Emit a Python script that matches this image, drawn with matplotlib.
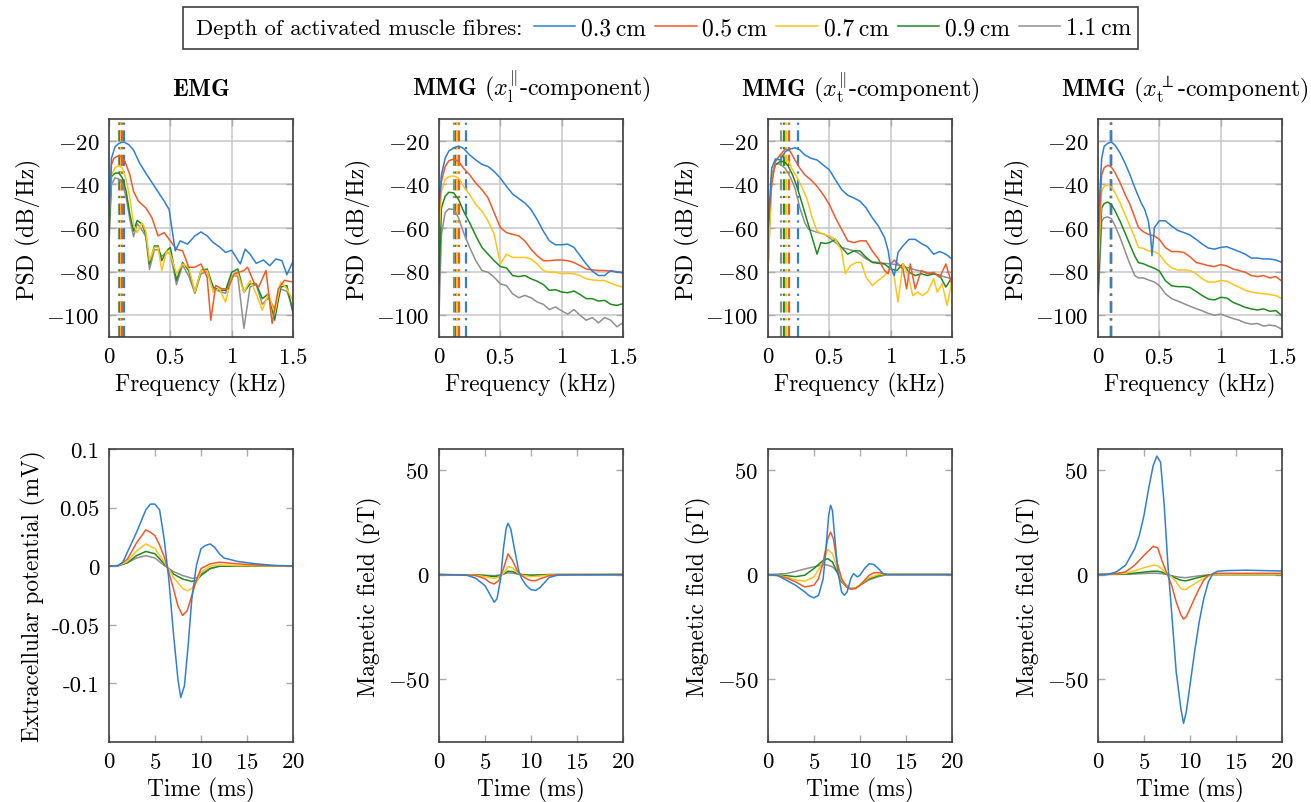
import numpy as np
import matplotlib
matplotlib.use('Agg')
import matplotlib.pyplot as plt
from matplotlib.patches import Rectangle
from matplotlib.lines import Line2D
from matplotlib.ticker import FuncFormatter

plt.rcParams['font.family'] = ['cmr10', 'DejaVu Serif']
plt.rcParams['mathtext.fontset'] = 'cm'
plt.rcParams['axes.formatter.use_mathtext'] = True
plt.rcParams['font.size'] = 16.8

depths = ['0.3\u2009cm', '0.5\u2009cm', '0.7\u2009cm', '0.9\u2009cm', '1.1\u2009cm']
colors = ['#2f7fd2', '#ee5a2a', '#ffc41c', '#1f8a1f', '#8f8f8f']

# ---------------- PSD data (kHz, dB/Hz) ----------------
# EMG
emg_f_03 = [0, 0.02, 0.05, 0.08, 0.12, 0.16, 0.2, 0.25, 0.3, 0.38, 0.45, 0.49, 0.52, 0.54, 0.58, 0.64, 0.7,
            0.75, 0.8, 0.85, 0.9, 0.95, 1.0, 1.07, 1.11, 1.15, 1.2, 1.26, 1.31, 1.36, 1.41, 1.45, 1.5]
emg_psd_03 = [-58, -28, -22.7, -21.2, -20.5, -21.7, -24.2, -30.3, -34.8, -41.7, -47.7, -51.5, -62.9, -70.5,
              -65.9, -67.4, -63.6, -61.8, -63.6, -66.7, -68.6, -71.2, -70.2, -76.5, -69.7, -72, -76.2, -74.7,
              -77.3, -74.2, -75, -81.4, -75.3]
emg_f_05 = [0, 0.02, 0.04, 0.07, 0.1, 0.13, 0.17, 0.2, 0.24, 0.3, 0.35, 0.4, 0.45, 0.5, 0.55, 0.6, 0.65, 0.7,
            0.75, 0.8, 0.83, 0.87, 0.92, 0.97, 1.02, 1.1, 1.13, 1.18, 1.22, 1.28, 1.33, 1.38, 1.43, 1.5]
emg_psd_05 = [-55, -31, -28, -27, -27.3, -29.5, -35.6, -43.2, -47.7, -50.8, -55.3, -63.6, -62.1, -65.9, -69.7,
              -70.5, -78, -78, -76.5, -82.6, -102.3, -86.4, -87.9, -87.9, -81, -79.5, -78, -84.8, -87.1, -79.5,
              -103.8, -87.9, -84, -84.8]
emg_f = [0, 0.02, 0.05, 0.08, 0.11, 0.14, 0.17, 0.2, 0.23, 0.27, 0.3, 0.33, 0.37, 0.4, 0.43, 0.47, 0.5, 0.55,
         0.6, 0.65, 0.7, 0.75, 0.8, 0.85, 0.9, 0.95, 1.0, 1.05, 1.1, 1.15, 1.2, 1.25, 1.3, 1.35, 1.4, 1.45, 1.5]
emg_psd_07 = [-55, -35.6, -32.3, -31.4, -32.6, -37.9, -46.2, -58.3, -62.1, -57.6, -61.4, -75, -68.9, -68.9,
              -79.5, -70.5, -72, -81, -76.5, -78, -89.4, -79.5, -79.5, -89.4, -87.9, -94, -82.6, -81, -89.4,
              -84, -90.2, -97.7, -90.2, -99.2, -84.8, -87.9, -93.2]
emg_psd_09 = [-62, -36.4, -34.8, -34.8, -37.1, -43.2, -53.8, -61.4, -56.5, -58.3, -62.9, -76.5, -68.2, -68.2,
              -75, -70.5, -68.9, -84, -75.8, -79.5, -89.4, -79.5, -78.8, -87.1, -88.6, -88.6, -80.3, -78.8,
              -89.4, -85.6, -85.6, -92.4, -90.2, -102.3, -87.1, -86.4, -99.2]
emg_psd_11 = [-68, -40, -37, -37.5, -40, -46, -56, -64, -58, -61, -64, -79, -70, -70, -73, -71, -72, -86, -77,
              -82, -90, -81, -80, -88, -89, -90, -82, -82, -106, -87, -86, -95, -92, -97, -88, -89, -97]
emg_peaks = [0.125, 0.105, 0.095, 0.09, 0.085]

# MMG x_l parallel
xl_f = [0, 0.02, 0.05, 0.08, 0.12, 0.16, 0.2, 0.25, 0.3, 0.35, 0.4, 0.45, 0.5, 0.55, 0.6, 0.65, 0.7, 0.75, 0.8,
        0.85, 0.9, 0.95, 1.0, 1.05, 1.1, 1.15, 1.2, 1.25, 1.3, 1.35, 1.4, 1.45, 1.5]
xl_psd_03 = [-48, -35.6, -28, -24.7, -23.2, -22.4, -23.5, -26.5, -28.8, -30.8, -31.8, -34.1, -37.1, -40.9, -44.4,
             -46.5, -48.5, -51.5, -56.1, -61.4, -65.9, -67.7, -67.7, -67.4, -68.9, -72.7, -76.5, -79.8, -81.8,
             -81.8, -79.5, -80.3, -80.3]
xl_psd_05 = [-52, -38.6, -31.8, -29.2, -28.3, -29.5, -32.6, -35.6, -39.4, -42.4, -46.2, -53, -59.8, -62.1, -62.9,
             -63.6, -65.9, -69.7, -72.7, -75, -75, -74.7, -74.7, -75, -75.8, -77.3, -78.8, -79.2, -79.5, -79.5,
             -79.8, -80, -80.8]
xl_psd_07 = [-62, -43.2, -37.9, -36.4, -36.1, -37.1, -40.9, -44.7, -49.2, -52.3, -56.8, -62.9, -76.5, -72, -73.5,
             -73.5, -73.5, -74.2, -76.5, -79.5, -80.3, -80.3, -81, -80.8, -81, -81.8, -83.3, -83.8, -84.1, -84.1,
             -85.3, -86.4, -87.1]
xl_psd_09 = [-85, -50.8, -45.5, -43.6, -43.9, -47, -52.3, -57.6, -63.6, -68.9, -72, -75, -77.7, -78.3, -81.8,
             -82.3, -81.8, -83.3, -84.4, -85.9, -88.6, -88.3, -89.4, -89.7, -88.9, -90.5, -92.4, -92.4, -93.5,
             -93.2, -95, -95.5, -94.7]
xl_psd_11 = [-100, -62.9, -53, -51.2, -51.5, -55.3, -62.1, -68.9, -75, -79.5, -80.3, -82.6, -85.6, -86.4, -90.2,
             -92, -90.9, -92, -93.9, -95, -97.4, -96.2, -98, -99.5, -97.4, -100, -102.3, -101.1, -103.5, -101.1,
             -102.3, -105.3, -103.5]
xl_peaks = [0.22, 0.16, 0.15, 0.135, 0.125]

# MMG x_t parallel
xt_f_03 = [0, 0.03, 0.06, 0.1, 0.14, 0.18, 0.22, 0.26, 0.3, 0.35, 0.4, 0.45, 0.5, 0.55, 0.6, 0.65, 0.7, 0.75, 0.8,
           0.85, 0.9, 0.95, 0.98, 1.0, 1.03, 1.06, 1.1, 1.15, 1.2, 1.25, 1.3, 1.35, 1.4, 1.45, 1.5]
xt_psd_03 = [-60, -32.6, -28.3, -28.8, -25, -23.8, -23.2, -24.2, -26.5, -28, -28.8, -31.1, -33.3, -37.9, -42.4,
             -45, -46.2, -47.7, -50.8, -55.3, -59.1, -64.4, -70.5, -78, -81.8, -71.2, -68.2, -65.2, -65.2, -67.1,
             -68.6, -72, -70.8, -72, -74.2]
xt_f_05 = [0, 0.03, 0.06, 0.1, 0.14, 0.18, 0.22, 0.26, 0.3, 0.35, 0.4, 0.45, 0.5, 0.55, 0.6, 0.65, 0.7, 0.75, 0.8,
           0.85, 0.9, 0.95, 0.98, 1.0, 1.03, 1.06, 1.1, 1.13, 1.16, 1.2, 1.25, 1.3, 1.35, 1.4, 1.45, 1.5]
xt_psd_05 = [-60, -40.2, -29.5, -26.5, -23.8, -24.7, -28.8, -32.6, -35.6, -37.9, -40.9, -44.7, -49.2, -55.3,
             -60.6, -65.9, -66.7, -65.9, -65.9, -70.5, -74.2, -79.5, -81, -76.5, -74.7, -76.5, -78.8, -87.9,
             -76.5, -87.9, -79.5, -81, -80.3, -82.6, -76.5, -86]
xt_f_07 = [0, 0.03, 0.06, 0.1, 0.13, 0.16, 0.2, 0.24, 0.28, 0.32, 0.36, 0.4, 0.45, 0.5, 0.55, 0.6, 0.63, 0.67,
           0.72, 0.76, 0.8, 0.85, 0.9, 0.95, 1.0, 1.03, 1.06, 1.1, 1.14, 1.18, 1.22, 1.26, 1.3, 1.35, 1.38, 1.42,
           1.46, 1.5]
xt_psd_07 = [-80, -38.6, -29.5, -26.2, -26.5, -28.8, -33.3, -37.1, -41.7, -47, -55.3, -61.4, -62.9, -63.6, -65.2,
             -70.5, -81, -77.3, -75.8, -75.8, -82.6, -86.4, -84, -81.8, -78, -82.6, -94, -76.5, -81, -91, -89.4,
             -91, -89.4, -83.3, -89.4, -85.6, -95.5, -84]
xt_f_09 = [0, 0.03, 0.06, 0.1, 0.13, 0.16, 0.2, 0.24, 0.28, 0.32, 0.36, 0.4, 0.43, 0.47, 0.5, 0.55, 0.6, 0.65,
           0.7, 0.75, 0.8, 0.85, 0.9, 0.95, 1.0, 1.05, 1.1, 1.15, 1.2, 1.25, 1.3, 1.35, 1.4, 1.45, 1.5]
xt_psd_09 = [-70, -37.1, -31.1, -29.5, -29.5, -31.1, -35.6, -41.7, -49.2, -56.8, -64.4, -72, -66.7, -67.1, -66.7,
             -65.2, -68.9, -72, -70.5, -70.5, -73.5, -75.8, -76.2, -76.5, -78.8, -79.5, -76.5, -80.3, -81.8, -81,
             -81.8, -81, -81.8, -87.1, -82.6]
xt_f_11 = [0, 0.03, 0.06, 0.1, 0.14, 0.18, 0.22, 0.26, 0.3, 0.33, 0.37, 0.41, 0.46, 0.5, 0.55, 0.6, 0.65, 0.7,
           0.75, 0.8, 0.85, 0.9, 0.95, 1.0, 1.05, 1.1, 1.15, 1.2, 1.25, 1.3, 1.35, 1.4, 1.45, 1.5]
xt_psd_11 = [-80, -35.6, -30.3, -30.8, -32.6, -36.4, -41.7, -50.8, -57.6, -60.6, -61.4, -62.1, -62.9, -64.4,
             -66.7, -68.9, -69.7, -70.5, -72, -74.2, -75.5, -75.8, -76.2, -76.5, -76.8, -77.7, -78.3, -79.2,
             -79.8, -80.5, -81, -81.8, -82.6, -83.3]
xt_peaks = [0.245, 0.17, 0.15, 0.13, 0.11]

# MMG x_t perpendicular
pp_f_03 = [0, 0.03, 0.05, 0.08, 0.11, 0.14, 0.18, 0.22, 0.26, 0.3, 0.35, 0.38, 0.41, 0.43, 0.44, 0.46, 0.5, 0.55,
           0.6, 0.65, 0.7, 0.75, 0.8, 0.85, 0.9, 0.95, 1.0, 1.05, 1.1, 1.15, 1.2, 1.25, 1.3, 1.35, 1.4, 1.45, 1.5]
pp_psd_03 = [-60, -28, -22.6, -21.1, -20.6, -22.1, -25.6, -30.2, -35.5, -41.5, -48.3, -51.4, -56.7, -64.3, -72.7,
             -59.8, -56.7, -56.7, -59.1, -61.1, -62.1, -63.2, -65.2, -67.4, -69.2, -69.7, -68.9, -68.6, -69.7,
             -70.8, -72, -73.8, -73.8, -74.2, -74.2, -74.7, -75.8]
pp_f = [0, 0.03, 0.05, 0.08, 0.11, 0.14, 0.18, 0.22, 0.26, 0.3, 0.33, 0.37, 0.41, 0.46, 0.5, 0.55, 0.6, 0.65, 0.7,
        0.75, 0.8, 0.85, 0.9, 0.95, 1.0, 1.05, 1.1, 1.15, 1.2, 1.25, 1.3, 1.35, 1.4, 1.45, 1.5]
pp_psd_05 = [-70, -35.5, -32.4, -31.2, -32.1, -34.7, -39.2, -44.5, -49.1, -55.2, -59.8, -61.7, -62.9, -63.6,
             -65.2, -69, -70.8, -70.8, -71.2, -73.2, -75.8, -76.5, -77.3, -77.7, -76.8, -77.4, -78.8, -79.5,
             -80.3, -81.8, -82.3, -81.8, -82.9, -82.3, -84.4]
pp_psd_07 = [-80, -43.1, -40.9, -40.2, -41.3, -43.9, -48.5, -53.8, -59.1, -64.4, -69, -69.3, -70.5, -70.8, -72,
             -75.8, -78.3, -79.2, -79.2, -79.5, -81, -83.3, -84.8, -84.8, -84.1, -84.4, -85.9, -87.1, -88.6,
             -89.4, -89.8, -90.2, -90.5, -91, -92.4]
pp_psd_09 = [-90, -50.8, -48.8, -48.1, -49.3, -52.3, -56.9, -62.2, -67.6, -72.9, -75.9, -76.4, -77.4, -78.5,
             -79.7, -84.2, -86.5, -86.9, -86.9, -87.3, -89.1, -91, -92.6, -93, -91.8, -92.1, -94.1, -95.2, -96.4,
             -97.1, -97.6, -97.1, -98.2, -97.9, -100.2]
pp_psd_11 = [-95, -56.9, -55.3, -54.9, -55.8, -59.1, -64.4, -70.5, -76.5, -81.8, -82.9, -82.9, -83.8, -84.8,
             -86.4, -90.2, -92.4, -93.5, -94.7, -95.9, -97, -98, -99.2, -100, -99.5, -100.5, -101.5, -102.3,
             -103.5, -104.1, -103.8, -105, -104.5, -105, -106.5]
pp_peaks = [0.11, 0.11, 0.11, 0.11, 0.11]

# ---------------- time signals (ms) ----------------
emg_t_03 = [0, 1, 1.5, 2, 3, 4, 4.5, 5, 5.5, 6, 6.5, 7, 7.5, 7.8, 8.2, 8.6, 9, 9.5, 10, 10.5, 11, 11.5, 12, 12.5,
            14, 16, 18, 20]
emg_v_03 = [0, 0.0006, 0.0034, 0.012, 0.029, 0.048, 0.053, 0.053, 0.048, 0.023, -0.011, -0.057, -0.097, -0.112,
            -0.102, -0.068, -0.028, 0.0006, 0.015, 0.0177, 0.019, 0.016, 0.0106, 0.007, 0.004, 0.002, 0.0006,
            0.0003]
emg_t_05 = [0, 1, 2, 3, 4, 4.5, 5, 5.5, 6, 6.5, 7, 7.5, 8, 8.5, 9, 9.5, 10, 11, 12, 14, 16, 20]
emg_v_05 = [0, 0.0005, 0.006, 0.02, 0.031, 0.029, 0.026, 0.018, 0.008, -0.005, -0.019, -0.034, -0.042, -0.038,
            -0.025, -0.012, -0.002, 0.002, 0.0034, 0.002, 0.001, 0]
emg_t = [0, 1, 2, 3, 4, 5, 6, 6.5, 7, 8, 8.5, 9, 9.5, 10, 11, 12, 14, 20]
emg_v_07 = [0, 0.0005, 0.004, 0.013, 0.019, 0.015, 0.0034, -0.002, -0.0094, -0.019, -0.021, -0.019, -0.014,
            -0.005, 0, 0.001, 0.0005, 0]
emg_v_09 = [0, 0.0004, 0.003, 0.009, 0.0126, 0.0106, 0.002, -0.002, -0.0066, -0.011, -0.012, -0.013, -0.012,
            -0.008, -0.002, 0, 0, 0]
emg_v_11 = [0, 0.0004, 0.003, 0.007, 0.009, 0.007, 0.0006, -0.002, -0.0046, -0.008, -0.009, -0.0103, -0.010,
            -0.0066, -0.002, 0, 0, 0]

xl_t_03 = [0, 3, 4, 5, 5.5, 6, 6.3, 6.7, 7, 7.3, 7.5, 7.8, 8.2, 8.7, 9, 9.5, 10, 10.5, 11, 11.5, 12, 13, 20]
xl_b_03 = [0, -0.2, -1.8, -5.3, -9.2, -13.2, -11.6, -2, 12.3, 22.1, 24.5, 21.8, 12.3, 1.1, -2, -5.3, -7.2, -7.6,
           -6.1, -3.7, -1.3, -0.2, 0]
xl_t_05 = [0, 4, 5, 5.5, 6, 6.5, 7, 7.5, 8, 8.5, 9, 9.5, 10, 10.5, 11, 12, 13, 20]
xl_b_05 = [0, -0.5, -2, -3.7, -4.5, -2.9, 2.7, 9.9, 6.7, 1.9, -0.5, -2, -2.9, -2.9, -2, -0.5, 0, 0]
xl_t = [0, 4, 5, 6, 6.5, 7, 7.5, 8, 8.5, 9, 10, 11, 12, 20]
xl_b_07 = [0, -0.3, -1, -1.8, -1.2, 0.5, 3.8, 3.2, 1, -0.3, -1, -0.7, -0.2, 0]
xl_b_09 = [0, -0.2, -0.5, -1, -0.6, 0.3, 1.6, 1.4, 0.5, 0, -0.4, -0.2, 0, 0]
xl_b_11 = [0, -0.1, -0.3, -0.5, -0.3, 0.2, 0.8, 0.7, 0.3, 0, -0.2, -0.1, 0, 0]

xt_t_03 = [0, 1, 2, 3, 4, 4.5, 5, 5.5, 6, 6.3, 6.6, 6.8, 7.0, 7.3, 7.6, 8, 8.3, 8.6, 9, 9.3, 9.7, 10, 10.5, 11,
           11.5, 12, 12.5, 13, 20]
xt_b_03 = [0, -0.3, -2.7, -5.1, -8.3, -10.2, -11.1, -9.9, -1.9, 12.4, 28.3, 33.1, 30.7, 15.6, 1.3, -8.3, -9.9,
           -8.3, -1.9, 0.5, -1.1, -0.3, 2.9, 5.2, 4.8, 2.9, 0.5, 0, 0]
xt_t_05 = [0, 1, 2, 3, 4, 5, 5.5, 6, 6.5, 6.8, 7.1, 7.5, 8, 8.5, 9, 9.5, 10, 10.5, 11, 11.5, 12, 12.5, 13, 20]
xt_b_05 = [0, -0.5, -1.6, -3.5, -5.9, -5.1, -1.9, 6, 17.2, 20.3, 17.2, 6, -1.9, -5.9, -7, -6.7, -5.1, -2.7, -0.3,
           0.8, 1, 0.5, 0, 0]
xt_t = [0, 1, 2, 3, 4, 5, 6, 6.5, 7, 7.5, 8, 8.5, 9, 9.5, 10, 11, 12, 13, 20]
xt_b_07 = [0, -0.3, -1.2, -2.5, -3.2, -1.1, 6, 12, 10, 3.7, -2.7, -5.5, -6.7, -6.5, -4.8, -1.5, 0, 0, 0]
xt_b_09 = [0, -0.2, -0.5, -1, -0.3, 2.9, 6.8, 7.6, 6, 1.3, -3.5, -5.5, -6.7, -6.5, -5.1, -2, -0.5, 0, 0]
xt_b_11 = [0, 0.2, 0.5, 1.5, 2.7, 3.7, 4.8, 4.5, 3.7, 1.5, -2.7, -5, -6.7, -6.5, -5, -2.5, -1, 0, 0]

pp_t_03 = [0, 1, 2, 3, 4, 4.5, 5, 5.5, 6, 6.4, 6.8, 7.2, 7.6, 8, 8.5, 9, 9.3, 9.6, 10, 10.5, 11, 11.5, 12, 12.5,
           13, 14, 16, 18, 20]
pp_b_03 = [0, 0, 1.3, 4.5, 12.4, 18.8, 28.3, 41, 52.1, 56.6, 53.7, 33, 4.5, -17.8, -46.4, -63.9, -71.1, -65.5,
           -52.8, -36.9, -22.6, -11.4, -3.5, 0.5, 1.6, 1.9, 2.1, 1.9, 1.7]
pp_t_05 = [0, 2, 3, 4, 5, 6, 6.5, 7, 7.5, 8, 8.5, 9, 9.3, 9.6, 10, 10.5, 11, 11.5, 12, 12.5, 13, 20]
pp_b_05 = [0, 0.5, 1.3, 4.5, 9.2, 13.5, 12.7, 6, 0.5, -5.1, -13, -19.1, -21.3, -20.2, -16.2, -11.4, -6.7, -2.7,
           -0.3, 0.3, 0.6, 0.6]
pp_t = [0, 3, 4, 5, 6, 6.5, 7, 7.5, 8, 8.5, 9, 9.5, 10, 11, 12, 13, 20]
pp_b_07 = [0, 0.6, 1.8, 3.3, 4.5, 4.2, 2.5, 0.3, -1.1, -3.5, -6.7, -7.2, -5.8, -3, -0.8, 0.2, 0.2]
pp_b_09 = [0, 0.3, 0.7, 1.2, 1.6, 1.6, 1.1, 0.2, -0.8, -1.8, -2.7, -3, -2.5, -1.3, -0.3, 0, 0]
pp_b_11 = [0, 0.1, 0.3, 0.5, 0.7, 0.6, 0.4, 0, -0.5, -1, -1.3, -1.5, -1.2, -0.6, -0.1, 0, 0]

titles = [r'$\mathbf{EMG}$',
          r'$\mathbf{MMG}$ ($x_\mathrm{l}^{\Vert}$-component)',
          r'$\mathbf{MMG}$ ($x_\mathrm{t}^{\Vert}$-component)',
          r'$\mathbf{MMG}$ ($x_\mathrm{t}^{\perp}$-component)']
title_x = [0.5, 0.5, 0.5, 0.47]

top_data = [
    ([(emg_f_03, emg_psd_03), (emg_f_05, emg_psd_05), (emg_f, emg_psd_07), (emg_f, emg_psd_09),
      (emg_f, emg_psd_11)], emg_peaks),
    ([(xl_f, xl_psd_03), (xl_f, xl_psd_05), (xl_f, xl_psd_07), (xl_f, xl_psd_09), (xl_f, xl_psd_11)], xl_peaks),
    ([(xt_f_03, xt_psd_03), (xt_f_05, xt_psd_05), (xt_f_07, xt_psd_07), (xt_f_09, xt_psd_09),
      (xt_f_11, xt_psd_11)], xt_peaks),
    ([(pp_f_03, pp_psd_03), (pp_f, pp_psd_05), (pp_f, pp_psd_07), (pp_f, pp_psd_09), (pp_f, pp_psd_11)], pp_peaks),
]
bottom_data = [
    [(emg_t_03, emg_v_03), (emg_t_05, emg_v_05), (emg_t, emg_v_07), (emg_t, emg_v_09), (emg_t, emg_v_11)],
    [(xl_t_03, xl_b_03), (xl_t_05, xl_b_05), (xl_t, xl_b_07), (xl_t, xl_b_09), (xl_t, xl_b_11)],
    [(xt_t_03, xt_b_03), (xt_t_05, xt_b_05), (xt_t, xt_b_07), (xt_t, xt_b_09), (xt_t, xt_b_11)],
    [(pp_t_03, pp_b_03), (pp_t_05, pp_b_05), (pp_t, pp_b_07), (pp_t, pp_b_09), (pp_t, pp_b_11)],
]

W, H = 1311, 803
fig = plt.figure(figsize=(W / 100, H / 100), dpi=100)
lefts = [109, 439, 768, 1098]
axw = 184

math_fmt = FuncFormatter(lambda v, p: '$%g$' % v)
plain_fmt = FuncFormatter(lambda v, p: '%g' % v)   # EMG amplitude ticks use a plain hyphen


def style(ax, yfmt=math_fmt):
    for s in ax.spines.values():
        s.set_color('#404040')
        s.set_linewidth(1.2)
    ax.tick_params(direction='in', top=True, right=True, length=5, width=1, color='#aaaaaa',
                   labelsize=16.5, pad=7)
    ax.xaxis.set_major_formatter(math_fmt)
    ax.yaxis.set_major_formatter(yfmt)


for i in range(4):
    # top row: PSD
    ax = fig.add_axes([lefts[i] / W, 1 - 338 / H, axw / W, 218 / H])
    series, peaks = top_data[i]
    for k in range(4, -1, -1):
        ax.axvline(peaks[k], color=colors[k], lw=1.6, ls=(0, (5, 2.5, 1, 2.5)))
    for k in range(4, -1, -1):
        f, p = series[k]
        ax.plot(f, p, color=colors[k], lw=1.1)
    ax.set_xlim(0, 1.5)
    ax.set_ylim(-110, -10)
    ax.set_xticks([0, 0.5, 1, 1.5])
    ax.set_yticks([-100, -80, -60, -40, -20])
    ax.grid(True, color='#c8c8c8', lw=1.1)
    ax.set_axisbelow(True)
    style(ax)
    ax.set_xlabel('Frequency (kHz)')
    ax.set_ylabel('PSD (dB/Hz)')
    ax.set_title(titles[i], pad=17, fontsize=17.3, x=title_x[i])

    # bottom row: time signals
    ax = fig.add_axes([lefts[i] / W, 1 - 743 / H, axw / W, 293 / H])
    for k in range(4, -1, -1):
        t, v = bottom_data[i][k]
        ax.plot(t, v, color=colors[k], lw=1.1)
    ax.set_xlim(0, 20)
    ax.set_xticks([0, 5, 10, 15, 20])
    if i == 0:
        ax.set_ylim(-0.15, 0.1)
        ax.set_yticks([-0.1, -0.05, 0, 0.05, 0.1])
        ax.set_ylabel('Extracellular potential (mV)')
        style(ax, plain_fmt)
    else:
        ax.set_ylim(-80, 60)
        ax.set_yticks([-50, 0, 50])
        ax.set_ylabel('Magnetic field (pT)')
        style(ax)
    ax.set_xlabel('Time (ms)')

# legend box on top
fig.add_artist(Rectangle((183 / W, 1 - 50 / H), (1138 - 183) / W, 42 / H, transform=fig.transFigure,
                         fill=False, edgecolor='#404040', lw=1.2))
fig.text(196 / W, 1 - 29 / H, 'Depth of activated muscle fibres:', ha='left', va='center', fontsize=16.3)
handles = [Line2D([], [], color=c, lw=1.1) for c in colors]
fig.legend(handles, depths, loc='center left', bbox_to_anchor=(534 / W, 1 - 29 / H), ncol=5, frameon=False,
           handlelength=1.75, handletextpad=0.25, columnspacing=0.38, borderpad=0, borderaxespad=0, fontsize=17)

fig.savefig('out.png', dpi=100)
